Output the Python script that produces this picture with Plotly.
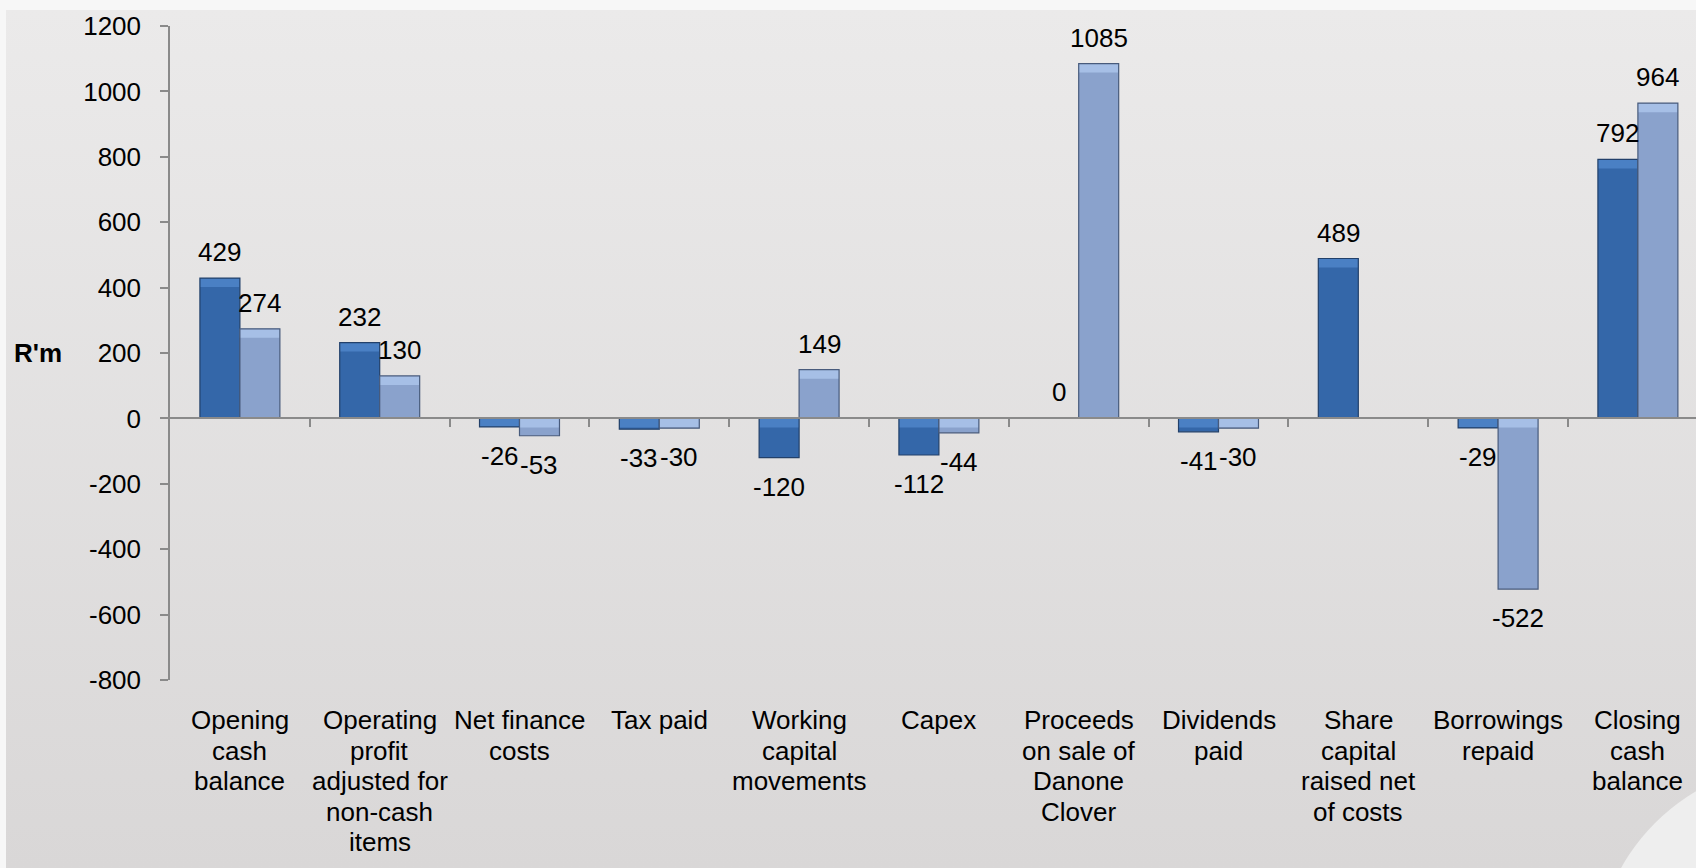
import base64
import plotly.graph_objects as go

# ---- data -------------------------------------------------------------
categories = [
    ["Opening", "cash", "balance"],
    ["Operating", "profit", "adjusted for", "non-cash", "items"],
    ["Net finance", "costs"],
    ["Tax paid"],
    ["Working", "capital", "movements"],
    ["Capex"],
    ["Proceeds", "on sale of", "Danone", "Clover"],
    ["Dividends", "paid"],
    ["Share", "capital", "raised net", "of costs"],
    ["Borrowings", "repaid"],
    ["Closing", "cash", "balance"],
]
series_dark = [429, 232, -26, -33, -120, -112, 0, -41, 489, -29, 792]
series_light = [274, 130, -53, -30, 149, -44, 1085, -30, None, -522, 964]
y_ticks = [-800, -600, -400, -200, 0, 200, 400, 600, 800, 1000, 1200]
y_tick_labels = ["-800", "-600", "-400", "-200", "0", "200", "400", "600", "800", "1000", "1200"]
y_title = "R'm"

# ---- geometry / style -------------------------------------------------
FONT = "Liberation Sans, Arial, sans-serif"
W, H = 1696, 868
M_L, M_R, M_T, M_B = 170, 0, 26, 188
Y_MIN, Y_MAX = -800, 1200
CAT_PX = 139.8               # pixel width of one category slot
BAR_W = 0.286                # bar width in category units
n = len(categories)
plot_w = W - M_L - M_R
plot_h = H - M_T - M_B
x_max = -0.5 + plot_w / CAT_PX
unit_px = plot_h / (Y_MAX - Y_MIN)
bevel = 9 / unit_px          # bevel highlight depth in data units

AXIS_GREY = "#8a8a8a"
styles = {
    "dark": dict(fill="#3467a9", hl="#4a80c4", edge="#22406a", offset=-BAR_W),
    "light": dict(fill="#8aa2cc", hl="#a6bfe6", edge="#485b7c", offset=0.0),
}


def bevel_band(vals):
    base, height = [], []
    for v in vals:
        if v is None or v == 0:
            base.append(None)
            height.append(None)
            continue
        top = max(v, 0)
        h = min(abs(v), bevel)
        base.append(top - h)
        height.append(h)
    return base, height


xs = list(range(n))
fig = go.Figure()
for key, vals in (("dark", series_dark), ("light", series_light)):
    st = styles[key]
    fig.add_trace(go.Bar(
        x=xs, y=vals, width=BAR_W, offset=st["offset"],
        marker=dict(color=st["fill"], line=dict(width=0)),
        hoverinfo="skip", showlegend=False,
    ))
    b, h = bevel_band(vals)
    fig.add_trace(go.Bar(
        x=xs, y=h, base=b, width=BAR_W, offset=st["offset"],
        marker=dict(color=st["hl"], line=dict(width=0)),
        hoverinfo="skip", showlegend=False,
    ))
    fig.add_trace(go.Bar(
        x=xs, y=vals, width=BAR_W, offset=st["offset"],
        marker=dict(color="rgba(0,0,0,0)", line=dict(color=st["edge"], width=1.2)),
        hoverinfo="skip", showlegend=False,
    ))

annotations = []

# value labels
for key, vals in (("dark", series_dark), ("light", series_light)):
    centre_shift = styles[key]["offset"] + BAR_W / 2
    for i, v in enumerate(vals):
        if v is None:
            continue
        annotations.append(dict(
            x=i + centre_shift, y=v, xref="x", yref="y",
            text=str(v), showarrow=False,
            xanchor="center", yanchor="middle",
            yshift=26 if v >= 0 else -29,
            font=dict(family=FONT, size=26, color="#000000"),
        ))

# category labels, one annotation per line for tight line spacing
LINE_GAP = 30.55
for i, lines in enumerate(categories):
    for k, line in enumerate(lines):
        annotations.append(dict(
            x=i, y=0, xref="x", yref="paper",
            text=line, showarrow=False,
            xanchor="center", yanchor="middle",
            yshift=-(40 + k * LINE_GAP),
            font=dict(family=FONT, size=26, color="#000000"),
        ))

# y-axis title, horizontal
annotations.append(dict(
    x=(38 - M_L) / plot_w, y=200, xref="paper", yref="y",
    text=f"<b>{y_title}</b>", showarrow=False,
    xanchor="center", yanchor="middle",
    font=dict(family=FONT, size=26, color="#000000"),
))

# background: soft vertical grey gradient with pale top/left rim and corner swoosh
svg = f"""<svg xmlns="http://www.w3.org/2000/svg" width="{W}" height="{H}" viewBox="0 0 {W} {H}" preserveAspectRatio="none">
<defs><linearGradient id="g" x1="0" y1="0" x2="0" y2="1">
<stop offset="0" stop-color="#ebeaea"/><stop offset="1" stop-color="#d9d7d7"/>
</linearGradient></defs>
<rect width="{W}" height="{H}" fill="#f7f7f7"/>
<rect x="6" y="10" width="{W - 6}" height="{H - 10}" fill="url(#g)"/>
<circle cx="1800" cy="968" r="205" fill="#eeeeee"/>
</svg>"""
bg_src = "data:image/svg+xml;base64," + base64.b64encode(svg.encode()).decode()

fig.update_layout(
    width=W, height=H,
    margin=dict(l=M_L, r=M_R, t=M_T, b=M_B, pad=0),
    paper_bgcolor="#e3e2e2",
    plot_bgcolor="rgba(0,0,0,0)",
    barmode="overlay",
    showlegend=False,
    font=dict(family=FONT, size=26, color="#000000"),
    annotations=annotations,
    images=[dict(
        source=bg_src, xref="paper", yref="paper",
        x=-M_L / plot_w, y=1 + M_T / plot_h,
        sizex=W / plot_w, sizey=H / plot_h,
        xanchor="left", yanchor="top",
        sizing="stretch", layer="below",
    )],
    xaxis=dict(
        type="linear", range=[-0.5, x_max],
        anchor="free", position=(0 - Y_MIN) / (Y_MAX - Y_MIN),
        showline=True, linecolor=AXIS_GREY, linewidth=1.5,
        ticks="outside", ticklen=8, tickwidth=1.5, tickcolor=AXIS_GREY,
        tickvals=[i + 0.5 for i in range(n - 1)],
        showticklabels=False, showgrid=False, zeroline=False,
        fixedrange=True,
    ),
    yaxis=dict(
        range=[Y_MIN, Y_MAX], tickvals=y_ticks, ticktext=y_tick_labels,
        ticks="outside", ticklen=8, tickwidth=1.5, tickcolor=AXIS_GREY,
        showline=True, linecolor=AXIS_GREY, linewidth=1.5,
        showgrid=False, zeroline=False,
        tickfont=dict(family=FONT, size=26, color="#000000"),
        ticklabelstandoff=14,
        fixedrange=True,
    ),
)

fig.write_html("out.html", config={"displayModeBar": False})
